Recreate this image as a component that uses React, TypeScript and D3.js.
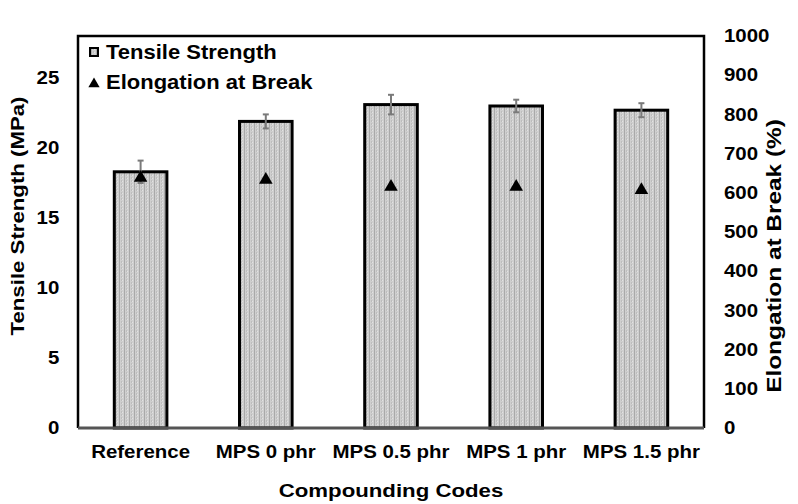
import React, { useEffect, useRef } from "react";
import * as d3 from "d3";

// data
const codes = ["Reference", "MPS 0 phr", "MPS 0.5 phr", "MPS 1 phr", "MPS 1.5 phr"];
const tensile = [18.3, 21.9, 23.1, 23.0, 22.7];
const tensileErr = [0.8, 0.5, 0.7, 0.45, 0.5];
const elongation = [638, 633, 615, 615, 607];
const leftTicks = [0, 5, 10, 15, 20, 25];
const rightTicks = [0, 100, 200, 300, 400, 500, 600, 700, 800, 900, 1000];

const W = 798;
const H = 504;
const margin = { top: 36, right: 94, bottom: 76, left: 78 };
const FONT = "'Liberation Sans', Arial, sans-serif";
// the original lettering is a bit wider than Arial, so stretch it sideways
const STRETCH = 1.17;

export default function App() {
  const ref = useRef<SVGSVGElement>(null);

  useEffect(() => {
    const svg = d3.select(ref.current);
    svg.selectAll("*").remove();

    const width = W - margin.left - margin.right;
    const height = H - margin.top - margin.bottom;

    // stripy gray fill like the original bars
    const defs = svg.append("defs");
    const pat = defs.append("pattern")
      .attr("id", "stripes")
      .attr("patternUnits", "userSpaceOnUse")
      .attr("width", 5)
      .attr("height", 3);
    pat.append("rect").attr("width", 5).attr("height", 3).attr("fill", "#cfcfcf");
    pat.append("rect").attr("x", 1).attr("width", 1).attr("height", 3).attr("fill", "#a9a9a9");
    pat.append("rect").attr("x", 3).attr("width", 1).attr("height", 2).attr("fill", "#bdbdbd");
    pat.append("rect").attr("x", 4).attr("y", 1).attr("width", 1).attr("height", 1).attr("fill", "#e2e2e2");

    const g = svg.append("g").attr("transform", `translate(${margin.left},${margin.top})`);

    // scales
    const x = d3.scaleBand().domain(codes).range([0, width]).paddingInner(0.58).paddingOuter(0.29);
    const yL = d3.scaleLinear().domain([0, 28]).range([height, 0]);
    const yR = d3.scaleLinear().domain([0, 1000]).range([height, 0]);

    // bars
    g.selectAll("rect.bar")
      .data(codes)
      .enter()
      .append("rect")
      .attr("class", "bar")
      .attr("x", (d) => x(d)!)
      .attr("y", (d, i) => yL(tensile[i]))
      .attr("width", x.bandwidth())
      .attr("height", (d, i) => height - yL(tensile[i]))
      .attr("fill", "url(#stripes)")
      .attr("stroke", "#000")
      .attr("stroke-width", 3);

    // error bars
    const eg = g.append("g").attr("stroke", "#7a7a7a").attr("stroke-width", 2);
    codes.forEach((c, i) => {
      const cx = x(c)! + x.bandwidth() / 2;
      const hi = yL(tensile[i] + tensileErr[i]);
      const lo = yL(tensile[i] - tensileErr[i]);
      eg.append("line").attr("x1", cx).attr("x2", cx).attr("y1", hi).attr("y2", lo);
      eg.append("line").attr("x1", cx - 3).attr("x2", cx + 3).attr("y1", hi).attr("y2", hi);
      eg.append("line").attr("x1", cx - 3).attr("x2", cx + 3).attr("y1", lo).attr("y2", lo);
    });

    // elongation markers
    const tri = d3.symbol().type(d3.symbolTriangle).size(80);
    g.selectAll("path.tri")
      .data(codes)
      .enter()
      .append("path")
      .attr("class", "tri")
      .attr("d", tri)
      .attr("transform", (d, i) => `translate(${x(d)! + x.bandwidth() / 2},${yR(elongation[i])})`)
      .attr("fill", "#000");

    // frame
    g.append("path")
      .attr("d", `M0,${height}V0H${width}V${height}`)
      .attr("fill", "none")
      .attr("stroke", "#000")
      .attr("stroke-width", 2.5);
    g.append("line")
      .attr("x1", 0).attr("x2", width)
      .attr("y1", height).attr("y2", height)
      .attr("stroke", "#555")
      .attr("stroke-width", 3);

    // axes (labels only)
    const yAxisL = d3.axisLeft(yL).tickValues(leftTicks).tickSize(0).tickPadding(16);
    const la = g.append("g").call(yAxisL);
    la.select(".domain").remove();

    const yAxisR = d3.axisRight(yR).tickValues(rightTicks).tickFormat(d3.format("d")).tickSize(0).tickPadding(17);
    const ra = g.append("g").attr("transform", `translate(${width},0)`).call(yAxisR);
    ra.select(".domain").remove();

    const xAxis = d3.axisBottom(x).tickSize(0).tickPadding(18);
    const xa = g.append("g").attr("transform", `translate(0,${height})`).call(xAxis);
    xa.select(".domain").remove();

    svg.selectAll(".tick text")
      .attr("font-family", FONT)
      .attr("font-weight", "bold")
      .attr("font-size", 17.5)
      .attr("fill", "#000")
      .attr("transform", `scale(${STRETCH},1)`);

    // axis titles
    svg.append("text")
      .attr("text-anchor", "middle")
      .attr("transform", `translate(24,216) rotate(-90) scale(${STRETCH},1)`)
      .attr("font-family", FONT)
      .attr("font-weight", "bold")
      .attr("font-size", 19)
      .text("Tensile Strength (MPa)");

    svg.append("text")
      .attr("text-anchor", "middle")
      .attr("transform", `translate(781,256) rotate(-90) scale(1.22,1)`)
      .attr("font-family", FONT)
      .attr("font-weight", "bold")
      .attr("font-size", 20)
      .text("Elongation at Break (%)");

    svg.append("text")
      .attr("text-anchor", "middle")
      .attr("transform", `translate(391,497) scale(${STRETCH},1)`)
      .attr("font-family", FONT)
      .attr("font-weight", "bold")
      .attr("font-size", 19)
      .text("Compounding Codes");

    // legend
    const leg = svg.append("g");
    leg.append("rect")
      .attr("x", 90).attr("y", 48).attr("width", 8).attr("height", 8)
      .attr("fill", "url(#stripes)")
      .attr("stroke", "#000")
      .attr("stroke-width", 2);
    leg.append("text")
      .attr("transform", "translate(106,59) scale(1.1,1)")
      .attr("font-family", FONT)
      .attr("font-weight", "bold")
      .attr("font-size", 20)
      .text("Tensile Strength");
    leg.append("path")
      .attr("d", d3.symbol().type(d3.symbolTriangle).size(55)())
      .attr("transform", "translate(94,84)")
      .attr("fill", "#000");
    leg.append("text")
      .attr("transform", "translate(106,89) scale(1.1,1)")
      .attr("font-family", FONT)
      .attr("font-weight", "bold")
      .attr("font-size", 20)
      .text("Elongation at Break");
  }, []);

  return (
    <svg ref={ref} width={W} height={H} style={{ position: "absolute", left: 0, top: 0, background: "#fff" }} />
  );
}
